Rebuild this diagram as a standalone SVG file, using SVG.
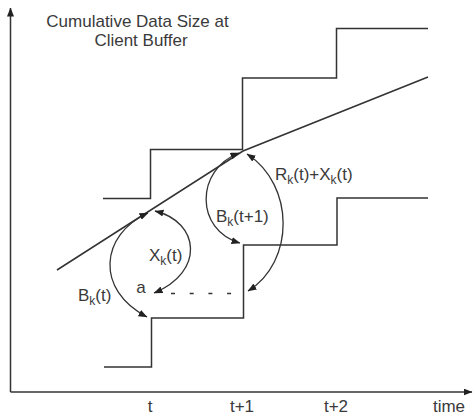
<svg xmlns="http://www.w3.org/2000/svg" width="475" height="418" viewBox="0 0 475 418">
  <style>
    .ln { fill: none; stroke: #333; stroke-width: 1.5; }
    .arr { fill: none; stroke: #333; stroke-width: 1.3; marker-start: url(#ah); marker-end: url(#ah); }
    .tx { font-family: "Liberation Sans", Arial, sans-serif; font-size: 17px; fill: #3a3a3a; }
    .sub { font-size: 12px; }
  </style>
  <defs>
    <marker id="ah" viewBox="0 0 9 7" markerWidth="9" markerHeight="7" refX="8.5" refY="3.5" orient="auto-start-reverse" markerUnits="userSpaceOnUse">
      <path d="M0,0 L9,3.5 L0,7 z" fill="#222"/>
    </marker>
    <marker id="ax" viewBox="0 0 9 7" markerWidth="9" markerHeight="7" refX="8.5" refY="3.5" orient="auto" markerUnits="userSpaceOnUse">
      <path d="M0,0 L9,3.5 L0,7 z" fill="#222"/>
    </marker>
  </defs>

  <g id="axes">
    <path class="ln" d="M10.5,392 L10.5,8" marker-end="url(#ax)"/>
    <path class="ln" d="M10.5,392 L472,392" marker-end="url(#ax)"/>
  </g>

  <g id="title">
    <text class="tx" x="137.5" y="27" text-anchor="middle" font-size="17.5">Cumulative Data Size at</text>
    <text class="tx" x="141" y="46" text-anchor="middle" font-size="17.5">Client Buffer</text>
  </g>

  <g id="curves">
    <path id="lower-step" class="ln" d="M104,367 H151.5 V318 H243.5 V245 H337 V198 H428"/>
    <path id="upper-step" class="ln" d="M103,198.5 H150.5 V149.5 H242.5 V78 H336.5 V28.5 H428"/>
    <path id="rate-line" class="ln" d="M57,270 L243,151 L428,77"/>
    <path id="dashes" class="ln" d="M171,293.5 H233" stroke-dasharray="4 14.7"/>
  </g>

  <g id="connectors">
    <path class="arr" d="M147,317 C95,290 100,235 148,213"/>
    <path class="arr" d="M155,211 C200,222 205,272 154,293"/>
    <path class="arr" d="M239,153 C195,170 195,230 240,243"/>
    <path class="arr" d="M247,154 C295,185 295,262 248,291"/>
  </g>

  <g id="labels">
    <text class="tx" x="78" y="301">B<tspan class="sub" dy="4">k</tspan><tspan dy="-4">(t)</tspan></text>
    <text class="tx" x="149" y="261">X<tspan class="sub" dy="4">k</tspan><tspan dy="-4">(t)</tspan></text>
    <text class="tx" x="216" y="222">B<tspan class="sub" dy="4">k</tspan><tspan dy="-4">(t+1)</tspan></text>
    <text class="tx" x="275" y="180">R<tspan class="sub" dy="4">k</tspan><tspan dy="-4">(t)+X</tspan><tspan class="sub" dy="4">k</tspan><tspan dy="-4">(t)</tspan></text>
    <text class="tx" x="141" y="293" text-anchor="middle">a</text>
    <text class="tx" x="150" y="412" text-anchor="middle">t</text>
    <text class="tx" x="242" y="412" text-anchor="middle">t+1</text>
    <text class="tx" x="336" y="412" text-anchor="middle">t+2</text>
    <text class="tx" x="449" y="412" text-anchor="middle">time</text>
  </g>
</svg>
